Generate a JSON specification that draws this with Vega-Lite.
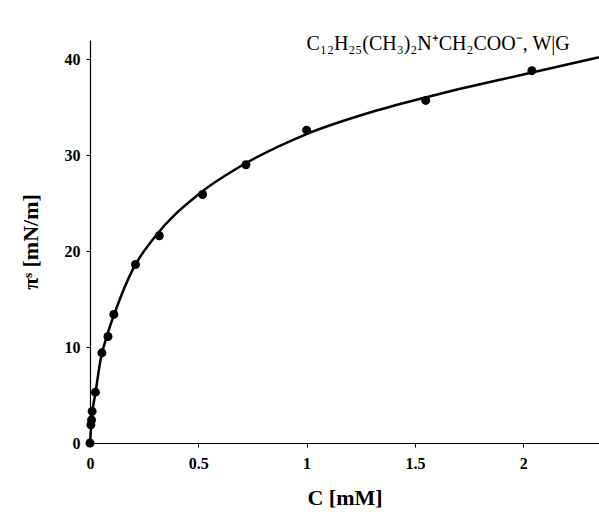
{
  "$schema": "https://vega.github.io/schema/vega-lite/v6.json",
  "autosize": "none",
  "width": 509,
  "height": 403,
  "padding": {"left": 90, "top": 40, "right": 0, "bottom": 74},
  "background": "white",
  "config": {"view": {"stroke": null}, "font": "Liberation Serif"},
  "datasets": {
    "pts": [
      {"C": 0.0, "pi": 0.0},
      {"C": 0.004, "pi": 1.9},
      {"C": 0.007, "pi": 2.4},
      {"C": 0.01, "pi": 3.3},
      {"C": 0.025, "pi": 5.3},
      {"C": 0.055, "pi": 9.4},
      {"C": 0.083, "pi": 11.1},
      {"C": 0.11, "pi": 13.4},
      {"C": 0.21, "pi": 18.6},
      {"C": 0.32, "pi": 21.6},
      {"C": 0.52, "pi": 25.9},
      {"C": 0.72, "pi": 29.0},
      {"C": 1.0, "pi": 32.6},
      {"C": 1.55, "pi": 35.7},
      {"C": 2.04, "pi": 38.8}
    ],
    "fit": [
      {"C": 0.0, "pi": 0.0},
      {"C": 0.01, "pi": 3.0},
      {"C": 0.025, "pi": 5.2},
      {"C": 0.05, "pi": 8.8},
      {"C": 0.08, "pi": 11.3},
      {"C": 0.11, "pi": 13.3},
      {"C": 0.2, "pi": 18.2},
      {"C": 0.3, "pi": 21.5},
      {"C": 0.5, "pi": 25.9},
      {"C": 0.7, "pi": 28.9},
      {"C": 1.0, "pi": 32.2},
      {"C": 1.3, "pi": 34.5},
      {"C": 1.6, "pi": 36.3},
      {"C": 2.0, "pi": 38.4},
      {"C": 2.35, "pi": 40.2}
    ],
    "label": [
      {"C": 1.0, "pi": 41.6, "t": "C₁₂H₂₅(CH₃)₂N⁺CH₂COO⁻, W|G"}
    ]
  },
  "layer": [
    {
      "data": {"name": "fit"},
      "mark": {"type": "line", "color": "black", "strokeWidth": 2.5, "interpolate": "monotone"},
      "encoding": {
        "x": {
          "field": "C", "type": "quantitative",
          "scale": {"domain": [0, 2.35], "nice": false},
          "axis": {
            "values": [0, 0.5, 1, 1.5, 2],
            "format": "~g",
            "title": "C [mM]",
            "titleFont": "Liberation Serif", "titleFontSize": 22, "titleFontWeight": "bold",
            "titleColor": "black", "titlePadding": 16,
            "labelFont": "Liberation Serif", "labelFontSize": 16, "labelFontWeight": "bold",
            "labelColor": "black", "labelPadding": 8, "labelFlush": false,
            "domainColor": "black", "domainWidth": 1.2,
            "tickColor": "black", "tickSize": 4, "grid": false
          }
        },
        "y": {
          "field": "pi", "type": "quantitative",
          "scale": {"domain": [0, 42], "nice": false},
          "axis": {
            "values": [0, 10, 20, 30, 40],
            "format": "~g",
            "title": "πˢ [mN/m]",
            "titleFont": "Liberation Serif", "titleFontSize": 22, "titleFontWeight": "bold",
            "titleColor": "black", "titlePadding": 22,
            "labelFont": "Liberation Serif", "labelFontSize": 16, "labelFontWeight": "bold",
            "labelColor": "black", "labelPadding": 6, "labelFlush": false,
            "domainColor": "black", "domainWidth": 1.2,
            "tickColor": "black", "tickSize": 4, "grid": false
          }
        }
      }
    },
    {
      "data": {"name": "pts"},
      "mark": {"type": "point", "filled": true, "color": "black", "opacity": 1, "size": 80, "clip": false},
      "encoding": {
        "x": {"field": "C", "type": "quantitative"},
        "y": {"field": "pi", "type": "quantitative"}
      }
    },
    {
      "data": {"name": "label"},
      "mark": {"type": "text", "align": "left", "baseline": "middle", "font": "Liberation Serif", "fontSize": 20, "color": "black", "clip": false},
      "encoding": {
        "x": {"field": "C", "type": "quantitative"},
        "y": {"field": "pi", "type": "quantitative"},
        "text": {"field": "t"}
      }
    }
  ]
}
